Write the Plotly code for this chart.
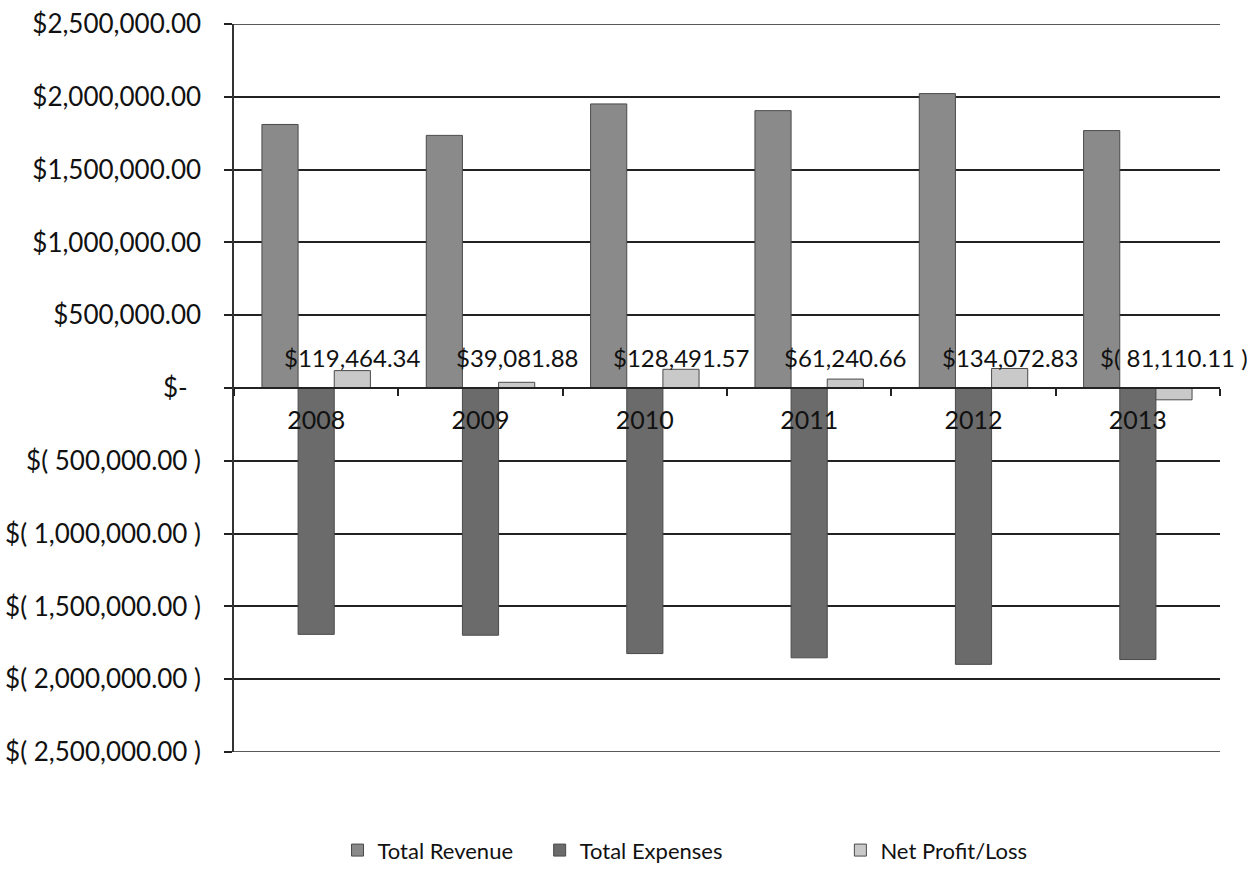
import plotly.graph_objects as go

# Annual financial summary
years = ["2008", "2009", "2010", "2011", "2012", "2013"]
total_revenue = [1810000, 1735000, 1951000, 1905000, 2022000, 1768000]
total_expenses = [-1692000, -1698000, -1824000, -1853000, -1898000, -1865000]
net_profit = [119464.34, 39081.88, 128491.57, 61240.66, 134072.83, -81110.11]

tick_values = [2500000, 2000000, 1500000, 1000000, 500000, 0,
               -500000, -1000000, -1500000, -2000000, -2500000]
tick_labels = ["$2,500,000.00", "$2,000,000.00", "$1,500,000.00", "$1,000,000.00",
               "$500,000.00", "$-\u00a0\u00a0", "$( 500,000.00 )", "$( 1,000,000.00 )",
               "$( 1,500,000.00 )", "$( 2,000,000.00 )", "$( 2,500,000.00 )"]

FONT = "Lato, Open Sans, sans-serif"
W, H = 1247, 890
M_L, M_R, M_T, M_B = 234, 27, 24, 138
BARGAP = 0.34
Y_MIN, Y_MAX = -2500000, 2500000

def money(v):
    if v < 0:
        return "$( {:,.2f} )".format(-v)
    return "${:,.2f}".format(v)

fig = go.Figure()
series = [
    ("Total Revenue", total_revenue, "#8a8a8a", "legend"),
    ("Total Expenses", total_expenses, "#6b6b6b", "legend2"),
    ("Net Profit/Loss", net_profit, "#c9c9c9", "legend3"),
]
for name, vals, color, lg in series:
    fig.add_trace(go.Bar(
        x=years, y=vals, name=name, legend=lg,
        marker=dict(color=color, line=dict(color="#4a4a4a", width=1)),
    ))

# value labels above the net profit bars (x given as category index)
plot_w = W - M_L - M_R
cat_px = plot_w / len(years)
bar_px = cat_px * (1 - BARGAP) / 3
for i, v in enumerate(net_profit):
    fig.add_annotation(
        x=i, y=0, xref="x", yref="y", text=money(v), showarrow=False,
        xshift=bar_px, yshift=31, yanchor="middle", xanchor="center",
        font=dict(family=FONT, size=24, color="#111"),
    )

# gridlines at the top and bottom edges of the value range
for yv in (Y_MIN, Y_MAX):
    fig.add_shape(type="line", xref="paper", yref="y", x0=0, x1=1, y0=yv, y1=yv,
                  line=dict(color="#222", width=1.5), layer="below")

legend_common = dict(orientation="h", yanchor="middle", y=-0.135, xanchor="left",
                     font=dict(family=FONT, size=22, color="#111"),
                     bgcolor="rgba(0,0,0,0)", itemwidth=30)

fig.update_layout(
    width=W, height=H,
    margin=dict(l=M_L, r=M_R, t=M_T, b=M_B, autoexpand=False),
    paper_bgcolor="white", plot_bgcolor="white",
    barmode="group", bargap=BARGAP, bargroupgap=0,
    font=dict(family=FONT, size=24, color="#111"),
    showlegend=True,
    legend=dict(x=0.105, **legend_common),
    legend2=dict(x=0.31, **legend_common),
    legend3=dict(x=0.615, **legend_common),
    xaxis=dict(
        type="category", anchor="free", position=0.5,
        range=[-0.5, len(years) - 0.5],
        showline=True, linecolor="#222", linewidth=1.5,
        ticks="outside", tickson="boundaries", ticklen=7, tickcolor="#222",
        tickwidth=1.5, ticklabelstandoff=10, tickangle=0,
        showgrid=False, tickfont=dict(family=FONT, size=25, color="#111"),
    ),
    yaxis=dict(
        range=[Y_MIN, Y_MAX], tickvals=tick_values, ticktext=tick_labels,
        automargin=False,
        showgrid=True, gridcolor="#222", gridwidth=1.5,
        zeroline=True, zerolinecolor="#222", zerolinewidth=1.5,
        showline=True, linecolor="#333", linewidth=1.5,
        ticks="outside", ticklen=8, tickcolor="#222", tickwidth=1.5,
        ticklabelstandoff=18, tickfont=dict(family=FONT, size=26, color="#111"),
    ),
)

fig.write_html("out.html")
